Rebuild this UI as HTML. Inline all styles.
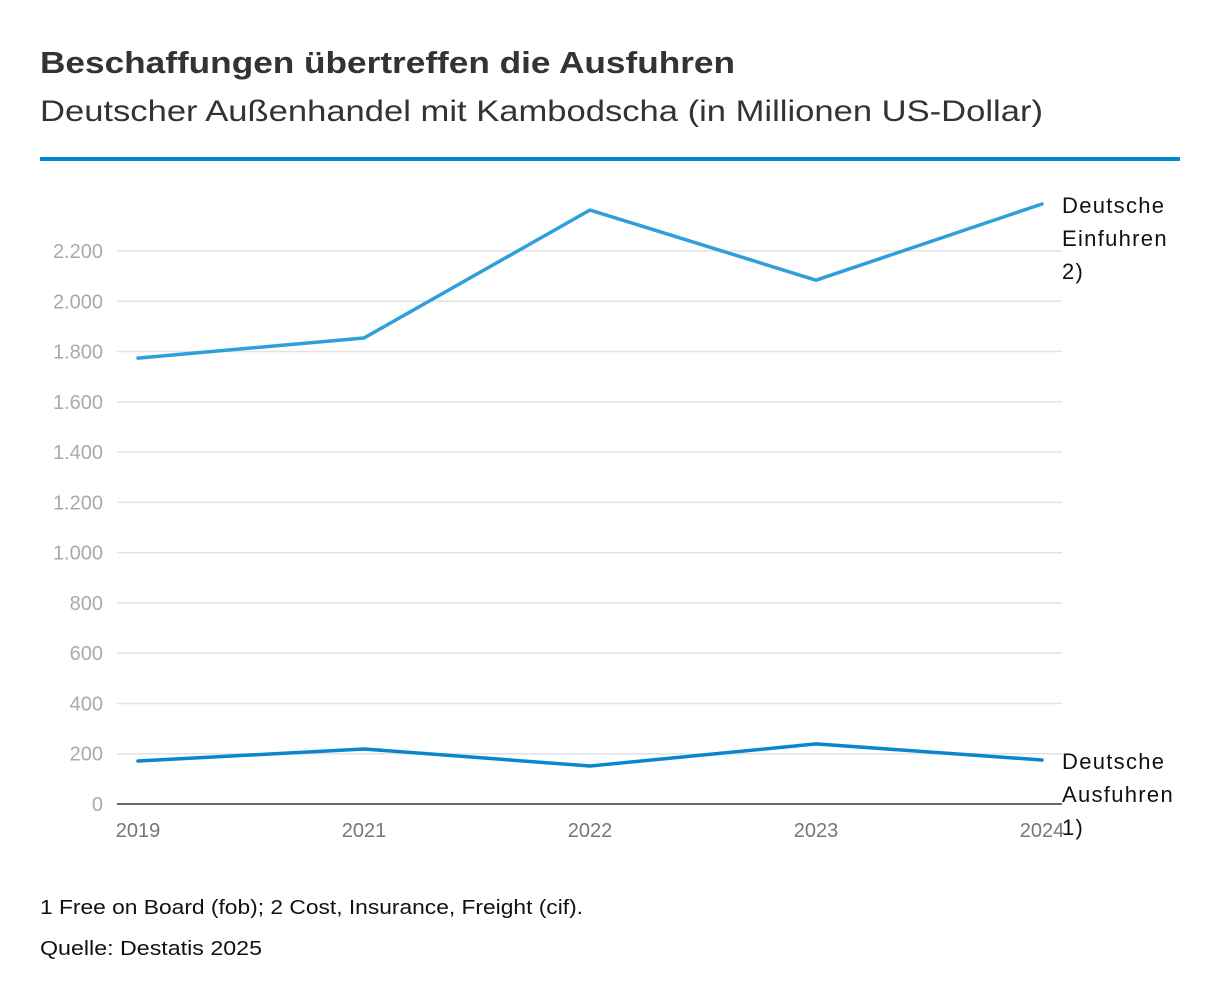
<!DOCTYPE html>
<html><head><meta charset="utf-8"><style>
body{margin:0;background:#fff;font-family:"Liberation Sans",sans-serif;}
svg{display:block}
</style></head><body>
<svg width="1220" height="1004" xmlns="http://www.w3.org/2000/svg">
<text x="40" y="73" font-size="31" font-weight="bold" fill="#333" textLength="695" lengthAdjust="spacingAndGlyphs">Beschaffungen übertreffen die Ausfuhren</text>
<text x="40" y="121" font-size="30" fill="#333" textLength="1003" lengthAdjust="spacingAndGlyphs">Deutscher Außenhandel mit Kambodscha (in Millionen US-Dollar)</text>
<rect x="40" y="157" width="1140" height="4" fill="#0089d0"/>
<g id="grid"></g><g id="series"></g>
<text x="40" y="914" font-size="20" fill="#111" textLength="543" lengthAdjust="spacingAndGlyphs">1 Free on Board (fob); 2 Cost, Insurance, Freight (cif).</text>
<text x="40" y="955" font-size="20" fill="#111" textLength="222" lengthAdjust="spacingAndGlyphs">Quelle: Destatis 2025</text>
</svg>
<script>
const categories=["2019","2021","2022","2023","2024"];
const imports=[1774,1854,2363,2084,2387];
const exportsV=[171,219,151,239,175];
const yTicks=[0,200,400,600,800,1000,1200,1400,1600,1800,2000,2200];
const yTickLabels=["0","200","400","600","800","1.000","1.200","1.400","1.600","1.800","2.000","2.200"];
const NS="http://www.w3.org/2000/svg";
const y=v=>804-v*(553/2200);
const x=i=>138+i*((1042-138)/(categories.length-1));
const grid=document.getElementById('grid'),ser=document.getElementById('series');
function mk(t,a,p){const e=document.createElementNS(NS,t);for(const k in a)e.setAttribute(k,a[k]);p.appendChild(e);return e;}
yTicks.forEach((v,i)=>{
 const l=mk('line',{x1:117,x2:1062,y1:y(v),y2:y(v),stroke:v===0?'#333':'#e2e2e2','stroke-width':1.5},grid);
 
 
 const t=mk('text',{x:103,y:y(v)+7,'text-anchor':'end','font-size':20,fill:'#aaa'},grid);
 t.textContent=yTickLabels[i];
 
 
});
categories.forEach((c,i)=>{
 const t=mk('text',{x:x(i),y:837,'text-anchor':'middle','font-size':20,fill:'#777'},grid);
 t.textContent=c;
 
 
});
function line(vals,color,name){
 const p=mk('polyline',{points:vals.map((v,i)=>x(i)+','+y(v)).join(' '),fill:'none',stroke:color,'stroke-width':3.5,'stroke-linejoin':'round','stroke-linecap':'round'},ser);
 
 
}
line(imports,'#2f9fdc','imports-line');
line(exportsV,'#0a87cc','exports-line');
function label(lines,y0,name){
 const t=mk('text',{x:1062,y:y0,'font-size':22,fill:'#111','letter-spacing':'1.3'},ser);
 
 
 lines.forEach((s,i)=>{const ts=mk('tspan',{x:1062,dy:i?33:0},t);ts.textContent=s;});
}
label(["Deutsche","Einfuhren","2)"],y(imports[4])+9,'imports-label');
label(["Deutsche","Ausfuhren","1)"],y(exportsV[4])+9,'exports-label');
</script>
</body></html>
